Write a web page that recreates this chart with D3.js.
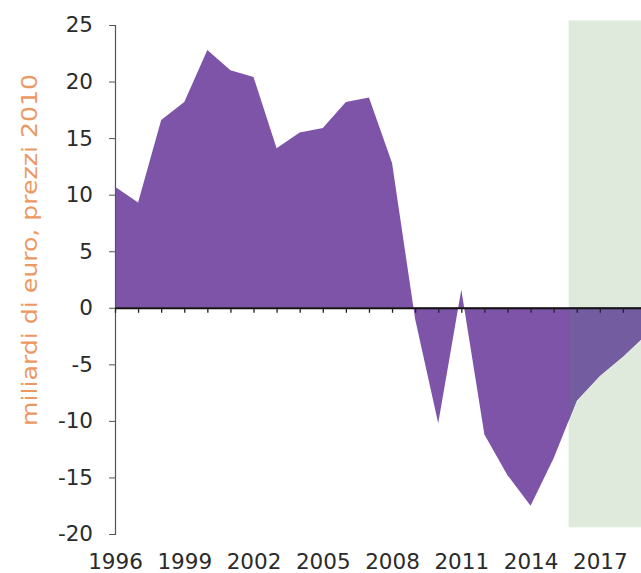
<!DOCTYPE html>
<html>
<head>
<meta charset="utf-8">
<script src="https://cdn.jsdelivr.net/npm/d3@7"></script>
<style>
  html, body { margin: 0; padding: 0; background: #ffffff; }
  svg { display: block; }
  text { font-family: "DejaVu Sans", Arial, sans-serif; }
</style>
</head>
<body>
<svg id="chart" width="641" height="573"></svg>
<script>
// Annual balance, billions of euro at 2010 prices
const years = [1996, 1997, 1998, 1999, 2000, 2001, 2002, 2003, 2004, 2005, 2006, 2007,
               2008, 2009, 2010, 2011, 2012, 2013, 2014, 2015, 2016, 2017, 2018, 2019];
const values = [10.7, 9.3, 16.6, 18.2, 22.8, 21.0, 20.4, 14.1, 15.5, 15.9, 18.2, 18.6,
                12.8, -1.0, -10.2, 1.6, -11.2, -14.8, -17.5, -13.3, -8.2, -6.0, -4.3, -2.4];

// Axis ticks and labels
const yTicks = [-20, -15, -10, -5, 0, 5, 10, 15, 20, 25];
const xLabelYears = [1996, 1999, 2002, 2005, 2008, 2011, 2014, 2017];
const yTitle = "miliardi di euro, prezzi 2010";

// Forecast period band
const forecastStart = 2015.65;
const forecastEnd = 2019;
const bandTop = 25.4;
const bandBottom = -19.4;

const data = years.map((yr, i) => ({ year: yr, value: values[i] }));

const svg = d3.select("#chart");

const x = d3.scaleLinear().domain([1996, 2019]).range([115, 646]);
const y = d3.scaleLinear().domain([-20, 25]).range([534, 25]);

// Forecast band
const bandX = x(forecastStart);
const bandY = y(bandTop);
const bandW = x(forecastEnd) - x(forecastStart);
const bandH = y(bandBottom) - y(bandTop);

svg.append("rect")
  .attr("x", bandX).attr("y", bandY)
  .attr("width", bandW).attr("height", bandH)
  .attr("fill", "#dfe9dc");

svg.append("clipPath").attr("id", "forecast-clip")
  .append("rect")
  .attr("x", bandX).attr("y", bandY)
  .attr("width", bandW).attr("height", bandH);

// Main area, filled from the zero line
const area = d3.area()
  .x(d => x(d.year))
  .y0(y(0))
  .y1(d => y(d.value))
  .curve(d3.curveLinear);

svg.append("path")
  .datum(data)
  .attr("d", area)
  .attr("fill", "#7e54a8");

// Forecast part of the area, muted by the band
svg.append("path")
  .datum(data)
  .attr("d", area)
  .attr("clip-path", "url(#forecast-clip)")
  .attr("fill", "#735ca0");

const fmt = d => String(d);

// Vertical value axis
const yAxis = svg.append("g")
  .attr("transform", `translate(${x(1996)},0)`)
  .call(d3.axisLeft(y).tickValues(yTicks).tickSize(6).tickPadding(16).tickFormat(fmt));
yAxis.select(".domain").attr("stroke", "#555").attr("stroke-width", 1.2);
yAxis.selectAll(".tick line").attr("stroke", "#555");
yAxis.selectAll(".tick text")
  .attr("font-size", 21.5)
  .attr("fill", "#2b2b2b")
  .attr("font-family", "'DejaVu Sans', Arial, sans-serif");

// Zero line with yearly tick marks
const zeroAxis = svg.append("g")
  .attr("transform", `translate(0,${y(0)})`)
  .call(d3.axisBottom(x).tickValues(years).tickSize(5).tickSizeOuter(0).tickFormat(""));
zeroAxis.select(".domain").attr("stroke", "#111").attr("stroke-width", 2);
zeroAxis.selectAll(".tick line").attr("stroke", "#222").attr("stroke-width", 1.3);

// Year labels along the bottom
const xAxis = svg.append("g")
  .attr("transform", `translate(0,${y(-20)})`)
  .call(d3.axisBottom(x).tickValues(xLabelYears).tickSize(0).tickPadding(20).tickFormat(fmt));
xAxis.select(".domain").remove();
xAxis.selectAll(".tick text")
  .attr("font-size", 21.5)
  .attr("fill", "#2b2b2b")
  .attr("font-family", "'DejaVu Sans', Arial, sans-serif");

// Axis title
svg.append("text")
  .attr("transform", `translate(37,250) rotate(-90)`)
  .attr("text-anchor", "middle")
  .attr("font-size", 21)
  .attr("fill", "#ec9863")
  .attr("font-family", "'Liberation Sans', Arial, sans-serif")
  .attr("textLength", 352)
  .attr("lengthAdjust", "spacingAndGlyphs")
  .text(yTitle);
</script>
</body>
</html>
